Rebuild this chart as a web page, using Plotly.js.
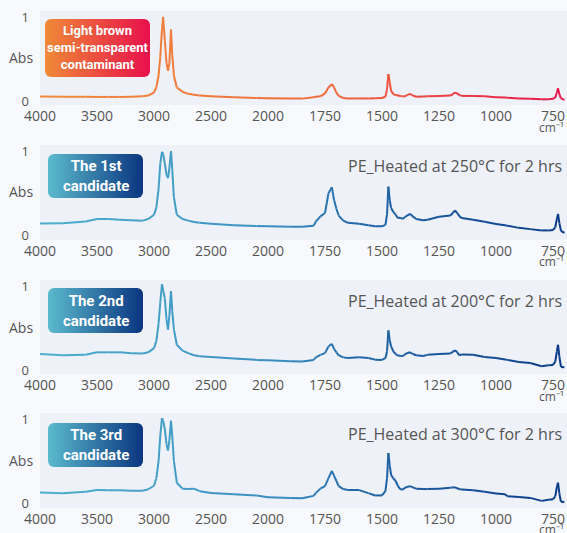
<!DOCTYPE html>
<html>
<head>
<meta charset="utf-8">
<script src="https://cdn.plot.ly/plotly-3.0.1.min.js"></script>
<style>
html,body{margin:0;padding:0;background:#f8f9fc;}
#chart{width:567px;height:533px;}
</style>
</head>
<body>
<div id="chart"></div>
<script>
// Wavenumbers (cm-1) shared by all four spectra
const wn = [4000,3800,3600,3500,3400,3300,3200,3100,3050,3000,2980,2960,2945,2930,2920,2905,2890,2877,2865,2851,2840,2825,2800,2750,2700,2650,2600,2500,2300,2100,2000,1900,1850,1800,1790,1770,1750,1735,1720,1710,1700,1690,1670,1650,1600,1560,1530,1500,1485,1478,1472,1466,1460,1450,1440,1430,1420,1410,1400,1390,1377,1365,1350,1320,1300,1250,1200,1190,1180,1170,1160,1150,1100,1050,1000,960,950,900,850,800,770,750,740,733,728,722,715,700];

const absContaminant = [0.054,0.05,0.05,0.048,0.048,0.048,0.05,0.055,0.065,0.10,0.16,0.30,0.52,0.85,1.0,0.72,0.45,0.36,0.45,0.85,0.55,0.30,0.16,0.11,0.085,0.075,0.065,0.055,0.045,0.035,0.032,0.03,0.028,0.045,0.05,0.055,0.09,0.16,0.2,0.16,0.10,0.06,0.035,0.03,0.03,0.03,0.032,0.035,0.05,0.14,0.32,0.22,0.12,0.08,0.07,0.065,0.06,0.055,0.055,0.07,0.085,0.065,0.05,0.052,0.055,0.06,0.065,0.08,0.10,0.09,0.07,0.06,0.06,0.055,0.045,0.04,0.038,0.03,0.025,0.02,0.02,0.025,0.04,0.10,0.15,0.08,0.03,0.012];

const abs250 = [0.146,0.15,0.17,0.2,0.198,0.19,0.186,0.18,0.2,0.25,0.33,0.55,0.85,0.99,0.97,0.85,0.72,0.68,0.8,1.0,0.78,0.45,0.25,0.2,0.18,0.165,0.155,0.143,0.125,0.116,0.113,0.108,0.107,0.12,0.17,0.23,0.27,0.5,0.575,0.42,0.32,0.24,0.18,0.155,0.143,0.125,0.115,0.113,0.13,0.25,0.58,0.42,0.33,0.28,0.25,0.21,0.215,0.2,0.22,0.24,0.26,0.23,0.2,0.185,0.19,0.226,0.24,0.27,0.3,0.27,0.23,0.21,0.19,0.167,0.14,0.125,0.12,0.095,0.08,0.065,0.065,0.07,0.10,0.2,0.26,0.15,0.06,0.035];

const abs200 = [0.19,0.175,0.18,0.21,0.21,0.21,0.2,0.195,0.21,0.26,0.34,0.55,0.8,1.02,0.95,0.85,0.6,0.48,0.65,0.94,0.7,0.48,0.3,0.23,0.2,0.175,0.163,0.155,0.137,0.12,0.115,0.105,0.1,0.12,0.15,0.18,0.2,0.28,0.31,0.25,0.21,0.175,0.15,0.143,0.15,0.143,0.123,0.12,0.14,0.22,0.47,0.35,0.28,0.22,0.19,0.17,0.17,0.163,0.185,0.2,0.21,0.19,0.175,0.167,0.18,0.19,0.196,0.215,0.235,0.21,0.175,0.185,0.18,0.155,0.143,0.125,0.12,0.095,0.083,0.045,0.055,0.06,0.1,0.22,0.3,0.16,0.036,0.032];

const abs300 = [0.135,0.127,0.143,0.163,0.162,0.16,0.155,0.155,0.173,0.214,0.3,0.5,0.8,1.01,0.98,0.88,0.7,0.63,0.75,0.98,0.8,0.5,0.25,0.18,0.175,0.18,0.15,0.13,0.113,0.1,0.078,0.07,0.068,0.095,0.13,0.18,0.21,0.3,0.39,0.33,0.27,0.21,0.175,0.165,0.163,0.127,0.1,0.1,0.15,0.3,0.6,0.45,0.34,0.3,0.27,0.21,0.175,0.167,0.19,0.2,0.21,0.195,0.18,0.175,0.175,0.178,0.19,0.193,0.195,0.185,0.173,0.17,0.16,0.143,0.123,0.115,0.09,0.083,0.071,0.036,0.048,0.055,0.09,0.2,0.25,0.12,0.024,0.024];

const tickWn = [4000,3500,3000,2500,2000,1750,1500,1250,1000,750];
const yTicks = [0,1];
const unitLabel = 'cm⁻¹';
const panelLabels = ['Light brown<br>semi-transparent<br>contaminant','The 1st<br>candidate','The 2nd<br>candidate','The 3rd<br>candidate'];
const sampleNotes = ['', 'PE_Heated at 250°C for 2 hrs', 'PE_Heated at 200°C for 2 hrs', 'PE_Heated at 300°C for 2 hrs'];
const spectra = [absContaminant, abs250, abs200, abs300];

// ---- presentation ----
const W = 567, H = 533, ML = 40;
const plotW = W - ML;
const pxPerU = 0.114;
const xRange = [4000, 4000 - plotW / pxPerU];
const yRange = [-0.048, 1.071];
// axis scale doubles below 2000 cm-1
function toU(w){ return w >= 2000 ? w : 2*w - 2000; }

const panelsPx = [[11,105],[145,240],[280,374],[413,508]];
const boxesPx = [[45,19,105,58],[48,154,95,44],[48,288,95,45],[48,423,95,44]];
const warm = [[0,'#f08c3a'],[0.55,'#f06a3c'],[1,'#e8104a']];
const cool = [[0,'#4cb0cc'],[0.45,'#3a8ec0'],[0.6,'#2268a8'],[1,'#0a3a88']];
const boxWarm = ['#f08a36','#e8104c'];
const boxCool = ['#5bbacd','#0a3580'];

function hex2rgb(h){return [parseInt(h.slice(1,3),16),parseInt(h.slice(3,5),16),parseInt(h.slice(5,7),16)];}
function colorAt(stops, t){
  t = Math.max(0, Math.min(1, t));
  for (let i=0;i<stops.length-1;i++){
    const [t0,c0]=stops[i],[t1,c1]=stops[i+1];
    if (t<=t1){
      const f=(t-t0)/(t1-t0), a=hex2rgb(c0), b=hex2rgb(c1);
      return 'rgb('+a.map((v,k)=>Math.round(v+(b[k]-v)*f)).join(',')+')';
    }
  }
  return stops[stops.length-1][1];
}

const data = [];
const layout = {
  width: W, height: H,
  margin: {l: ML, r: 0, t: 0, b: 0},
  paper_bgcolor: '#f8f9fc',
  plot_bgcolor: '#eef1f7',
  showlegend: false,
  hovermode: false,
  font: {family: 'Open Sans, sans-serif', color: '#555', size: 14},
  annotations: [],
  images: []
};

const uVals = wn.map(toU);
spectra.forEach((ys, p) => {
  const sfx = p === 0 ? '' : String(p+1);
  const stops = p === 0 ? warm : cool;
  for (let i=0;i<wn.length-1;i++){
    const tm = (xRange[0] - (uVals[i]+uVals[i+1])/2) / (xRange[0]-xRange[1]);
    data.push({
      type: 'scatter', mode: 'lines',
      x: [uVals[i], uVals[i+1]], y: [ys[i], ys[i+1]],
      xaxis: 'x'+sfx, yaxis: 'y'+sfx,
      line: {color: colorAt(stops, tm), width: 2},
      hoverinfo: 'skip'
    });
  }
  const [top, bot] = panelsPx[p];
  layout['xaxis'+sfx] = {
    domain: [0,1], anchor: 'y'+sfx, range: xRange, autorange: false,
    tickmode: 'array', tickvals: tickWn.map(toU), ticktext: tickWn.map(String),
    showgrid: false, zeroline: false, showline: false, ticks: '',
    ticklabelstandoff: 1,
    tickfont: {size: 14, color: '#555'}, fixedrange: true
  };
  layout['yaxis'+sfx] = {
    domain: [1 - bot/H, 1 - top/H], anchor: 'x'+sfx, range: yRange, autorange: false,
    tickmode: 'array', tickvals: yTicks, ticktext: yTicks.map(String),
    showgrid: false, zeroline: false, showline: false, ticks: '',
    ticklabelstandoff: 10,
    tickfont: {size: 13, color: '#555'}, fixedrange: true
  };
  layout.annotations.push({
    text: 'Abs', xref: 'paper', yref: 'paper', x: (21-ML)/plotW, y: 1 - (top + 47)/H,
    xanchor: 'center', yanchor: 'middle', showarrow: false,
    font: {size: 14, color: '#555'}
  });
  layout.annotations.push({
    text: unitLabel, xref: 'paper', yref: 'paper', x: (566-ML)/plotW, y: 1 - (top + 116)/H,
    xanchor: 'right', yanchor: 'middle', showarrow: false,
    font: {size: 12, color: '#555'}
  });
  if (sampleNotes[p]) {
    layout.annotations.push({
      text: sampleNotes[p], xref: 'paper', yref: 'paper', x: (564-ML)/plotW, y: 1 - (top + 21)/H,
      xanchor: 'right', yanchor: 'middle', showarrow: false,
      font: {size: 16, color: '#555'}
    });
  }
  const [bx, by, bw, bh] = boxesPx[p];
  const g = p === 0 ? boxWarm : boxCool;
  const svg = "<svg xmlns='http://www.w3.org/2000/svg' width='"+bw+"' height='"+bh+"' viewBox='0 0 "+bw+" "+bh+"' preserveAspectRatio='none'>"+
    "<defs><linearGradient id='g' x1='0' y1='0' x2='1' y2='0'><stop offset='0' stop-color='"+g[0]+"'/><stop offset='1' stop-color='"+g[1]+"'/></linearGradient></defs>"+
    "<rect x='0' y='0' width='"+bw+"' height='"+bh+"' rx='6' ry='6' fill='url(#g)'/></svg>";
  layout.images.push({
    source: 'data:image/svg+xml;charset=utf-8,' + encodeURIComponent(svg),
    xref: 'paper', yref: 'paper',
    x: (bx-ML)/plotW, y: 1 - by/H, sizex: bw/plotW, sizey: bh/H,
    xanchor: 'left', yanchor: 'top', sizing: 'stretch', layer: 'above'
  });
  layout.annotations.push({
    text: panelLabels[p], xref: 'paper', yref: 'paper',
    x: (bx + bw/2 - ML)/plotW, y: 1 - (by + bh/2)/H,
    xanchor: 'center', yanchor: 'middle', showarrow: false, align: 'center',
    font: {family: 'Roboto, sans-serif', size: p === 0 ? 13 : 15, color: '#ffffff', weight: 700}
  });
});

Plotly.newPlot('chart', data, layout, {staticPlot: true, displayModeBar: false});
</script>
</body>
</html>
